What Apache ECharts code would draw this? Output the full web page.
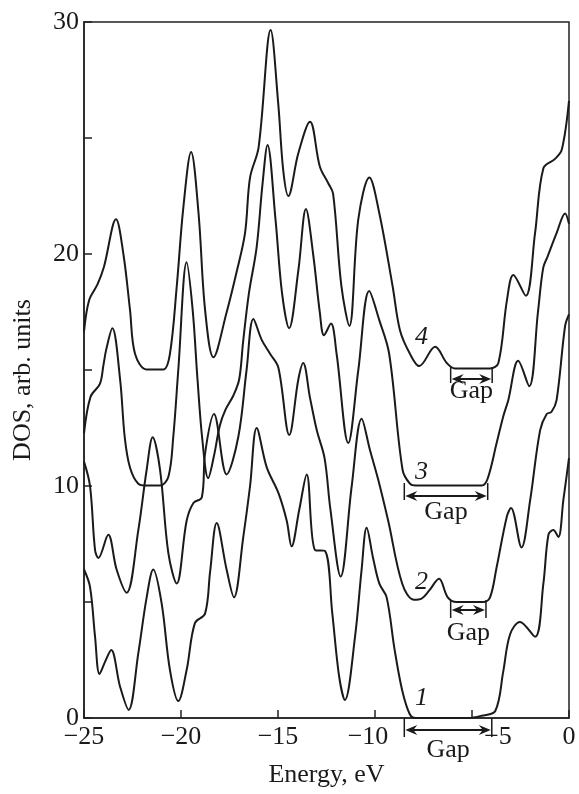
<!DOCTYPE html>
<html>
<head>
<meta charset="utf-8">
<script src="https://cdn.jsdelivr.net/npm/echarts@6/dist/echarts.min.js"></script>
<style>
html,body{margin:0;padding:0;background:#fff;}
#chart{width:579px;height:794px;}
</style>
</head>
<body>
<div id="chart"></div>
<script>
// ---- Data (energy in eV, DOS in arb. units; curves offset by 5) ----
const curve1 = [[-25,6.4],[-24.69,5.65],[-24.43,3.5],[-24.2,1.9],[-23.9,2.45],[-23.6,2.93],[-23.14,1.35],[-22.7,0.35],[-22.2,2.8],[-21.77,5.2],[-21.43,6.4],[-21.0,4.95],[-20.57,2.07],[-20.14,0.73],[-19.71,2.07],[-19.28,4.1],[-18.76,4.5],[-18.5,6.3],[-18.16,8.4],[-17.65,6.4],[-17.27,5.2],[-16.79,7.8],[-16.44,10.0],[-16.1,12.5],[-15.58,10.8],[-14.98,9.7],[-14.55,8.5],[-14.3,7.4],[-13.9,9.0],[-13.52,10.5],[-13.09,7.24],[-12.58,7.2],[-12.2,4.5],[-11.85,1.8],[-11.55,0.78],[-11.03,3.5],[-10.69,6.4],[-10.43,8.2],[-10.1,6.9],[-9.78,5.8],[-9.4,5.2],[-9.0,3.0],[-8.6,1.2],[-8.2,0.15],[-7.9,0],[-5.2,0],[-4.5,0.1],[-3.8,0.3],[-3.39,2.0],[-3.04,3.6],[-2.53,4.14],[-1.75,3.5],[-1.32,5.8],[-1.06,7.9],[-0.81,8.1],[-0.55,7.8],[-0.29,9.4],[0,11.2]];
const curve2 = [[-25,11.05],[-24.69,10.0],[-24.43,7.24],[-24.26,6.9],[-23.75,7.9],[-23.32,6.4],[-22.8,5.4],[-22.2,8.1],[-21.77,10.7],[-21.46,12.1],[-21.08,10.7],[-20.65,7.1],[-20.22,5.8],[-19.71,8.5],[-19.36,9.27],[-18.93,9.5],[-18.76,11.4],[-18.3,13.1],[-17.65,10.5],[-17.05,12.1],[-16.62,15.0],[-16.27,17.2],[-15.84,16.3],[-15.41,15.7],[-14.98,15.1],[-14.42,12.2],[-13.95,14.6],[-13.7,15.3],[-13.35,13.8],[-13.0,12.4],[-12.6,11.2],[-12.3,9.0],[-11.77,6.1],[-11.2,10.0],[-10.69,12.9],[-10.26,11.55],[-9.83,10.26],[-9.32,8.5],[-8.6,5.8],[-8.0,5.1],[-7.6,5.15],[-7.2,5.5],[-6.7,6.0],[-6.25,5.2],[-5.8,5.0],[-4.42,5.0],[-4.07,5.2],[-3.73,6.5],[-3.2,8.7],[-2.99,9.05],[-2.45,7.35],[-2.0,9.4],[-1.49,12.4],[-1.15,13.1],[-0.9,13.2],[-0.64,13.7],[-0.2,16.9],[0,17.4]];
const curve3 = [[-25,12.27],[-24.66,13.85],[-24.18,14.4],[-24.0,15.2],[-23.85,15.9],[-23.54,16.8],[-23.14,14.6],[-22.9,12.1],[-22.63,10.8],[-22.2,10.1],[-21.77,10.02],[-21.08,10.02],[-20.65,10.4],[-20.4,12.1],[-20.14,15.0],[-19.71,19.64],[-19.4,17.6],[-19.15,14.6],[-18.9,12.0],[-18.6,10.34],[-18.3,11.3],[-18.0,12.6],[-17.7,13.3],[-17.3,13.9],[-17.0,14.6],[-16.8,16.2],[-16.5,18.3],[-16.1,20.3],[-15.8,23.0],[-15.54,24.7],[-15.13,21.5],[-14.79,18.3],[-14.43,16.8],[-13.95,19.3],[-13.56,21.94],[-13.19,20.0],[-12.84,17.45],[-12.63,16.5],[-12.27,17.0],[-11.98,15.7],[-11.38,11.85],[-10.86,15.0],[-10.3,18.4],[-9.78,17.15],[-9.27,15.7],[-8.58,10.7],[-8.2,10.1],[-7.9,10.02],[-4.5,10.02],[-4.2,10.3],[-3.73,11.85],[-3.39,13.0],[-3.13,13.7],[-2.62,15.4],[-2.05,14.3],[-1.6,17.5],[-1.33,19.4],[-1.1,19.9],[-0.64,20.9],[-0.2,21.75],[0,21.3]];
const curve4 = [[-25,16.65],[-24.74,18.0],[-24.3,18.7],[-23.97,19.45],[-23.35,21.5],[-22.97,20.0],[-22.63,17.6],[-22.37,15.7],[-21.77,15.02],[-20.91,15.02],[-20.57,15.7],[-20.22,18.6],[-19.88,22.0],[-19.48,24.4],[-19.1,21.8],[-18.76,17.6],[-18.33,15.55],[-17.66,17.45],[-17.14,19.2],[-16.7,20.9],[-16.44,23.3],[-16.0,24.6],[-15.38,29.65],[-14.99,26.5],[-14.73,23.6],[-14.47,22.5],[-13.95,24.35],[-13.35,25.7],[-12.84,23.76],[-12.41,23.05],[-12.16,22.6],[-11.73,18.6],[-11.32,16.9],[-10.86,21.5],[-10.29,23.3],[-9.78,21.77],[-9.09,18.6],[-8.71,16.7],[-8.2,15.7],[-7.72,15.17],[-6.9,16.0],[-6.3,15.3],[-5.88,15.07],[-4.07,15.07],[-3.64,15.3],[-3.2,18.0],[-2.87,19.1],[-2.23,18.2],[-1.75,20.9],[-1.32,23.7],[-0.72,24.1],[-0.37,24.5],[0,26.6]];

const curveNames = ['1','2','3','4'];
const gapStart = [-8.49, -6.1, -8.49, -6.1];
const gapEnd   = [-3.98, -4.28, -4.19, -3.96];
const gapLevel = [0, 5, 10, 15];
const labelEnergy = -7.6;
const xTicks = [-25, -20, -15, -10, -5, 0];
const yTicks = [0, 10, 20, 30];

// ---- Styles ----
const FONT = '"Liberation Serif", "DejaVu Serif", serif';
const INK = '#1a1a1a';
// pixel offsets (below the gap level) for the annotation parts: [barTop, barBottom, arrow, textBaseline]
const gapOffsets = [[0, 19, 12, 45], [-2, 16, 8, 44], [-3, 14, 10, 39], [-3, 13, 9, 34]];
const labelOffsets = [-20, -20, -14, -33];

const chart = echarts.init(document.getElementById('chart'), null, {renderer: 'canvas'});

const series = [curve1, curve2, curve3, curve4].map((c, i) => ({
  type: 'line',
  name: curveNames[i],
  data: c,
  smooth: 0.35,
  showSymbol: false,
  symbol: 'none',
  lineStyle: {color: INK, width: 2},
  clip: false,
  z: 3
}));

function xLabel(v) {
  const t = String(v).replace('-', '\u2212');
  if (v === -5) return '{shiftR|' + t + '}';
  if (v === -10) return '{shiftL|' + t + '}';
  return '{n|' + t + '}';
}

chart.setOption({
  animation: false,
  backgroundColor: '#fff',
  grid: {left: 84, right: 10, top: 22, bottom: 76, show: true, borderColor: '#222', borderWidth: 1.5, containLabel: false},
  xAxis: {
    type: 'value', min: xTicks[0], max: xTicks[xTicks.length - 1], interval: 5,
    name: 'Energy, eV', nameLocation: 'middle', nameGap: 44,
    nameTextStyle: {fontFamily: FONT, fontSize: 26, color: INK},
    axisLine: {show: true, onZero: false, lineStyle: {color: '#222', width: 1.5}},
    axisTick: {show: true, inside: true, length: 8, lineStyle: {color: '#222', width: 1.5}},
    axisLabel: {fontFamily: FONT, fontSize: 26, color: INK, margin: 6,
      formatter: xLabel,
      rich: {
        n: {fontFamily: FONT, fontSize: 26, color: INK},
        shiftR: {fontFamily: FONT, fontSize: 26, color: INK, padding: [0, 0, 0, 52]},
        shiftL: {fontFamily: FONT, fontSize: 26, color: INK, padding: [0, 14, 0, 0]}
      }},
    splitLine: {show: false}
  },
  yAxis: {
    type: 'value', min: yTicks[0], max: yTicks[yTicks.length - 1], interval: 5,
    name: 'DOS, arb. units', nameLocation: 'middle', nameGap: 48, nameRotate: 90,
    nameTextStyle: {fontFamily: FONT, fontSize: 26, color: INK, padding: [0, 20, 0, 0]},
    axisLine: {show: true, onZero: false, lineStyle: {color: '#222', width: 1.5}},
    axisTick: {show: true, inside: true, length: 8, lineStyle: {color: '#222', width: 1.5}},
    axisLabel: {fontFamily: FONT, fontSize: 26, color: INK, margin: 5,
      formatter: v => (yTicks.indexOf(v) >= 0 ? String(v) : '')},
    splitLine: {show: false}
  },
  series: series
});

// ---- Gap annotations and curve numbers ----
const graphics = [];
for (let i = 0; i < 4; i++) {
  const p1 = chart.convertToPixel({gridIndex: 0}, [gapStart[i], gapLevel[i]]);
  const p2 = chart.convertToPixel({gridIndex: 0}, [gapEnd[i], gapLevel[i]]);
  const o = gapOffsets[i];
  const x1 = p1[0], x2 = p2[0], y0 = p1[1];
  const ya = y0 + o[2];
  const bar = {stroke: INK, lineWidth: 1.5};
  graphics.push({type: 'line', shape: {x1: x1, y1: y0 + o[0], x2: x1, y2: y0 + o[1]}, style: bar, z: 5});
  graphics.push({type: 'line', shape: {x1: x2, y1: y0 + o[0], x2: x2, y2: y0 + o[1]}, style: bar, z: 5});
  graphics.push({type: 'line', shape: {x1: x1 + 4, y1: ya, x2: x2 - 4, y2: ya}, style: {stroke: INK, lineWidth: 2}, z: 5});
  graphics.push({type: 'polygon', shape: {points: [[x1 + 1, ya], [x1 + 13, ya - 5], [x1 + 9, ya], [x1 + 13, ya + 5]]}, style: {fill: INK}, z: 5});
  graphics.push({type: 'polygon', shape: {points: [[x2 - 1, ya], [x2 - 13, ya - 5], [x2 - 9, ya], [x2 - 13, ya + 5]]}, style: {fill: INK}, z: 5});
  graphics.push({type: 'text', x: (x1 + x2) / 2, y: y0 + o[3],
    style: {text: 'Gap', fontFamily: FONT, fontSize: 26, fill: INK, textAlign: 'center', textVerticalAlign: 'bottom'}, z: 5});
  const lp = chart.convertToPixel({gridIndex: 0}, [labelEnergy, gapLevel[i]]);
  graphics.push({type: 'text', x: lp[0], y: lp[1] + labelOffsets[i],
    style: {text: curveNames[i], fontFamily: FONT, fontSize: 26, fontStyle: 'italic', fill: INK, textAlign: 'center', textVerticalAlign: 'middle'}, z: 5});
}
chart.setOption({graphic: graphics});
</script>
</body>
</html>
